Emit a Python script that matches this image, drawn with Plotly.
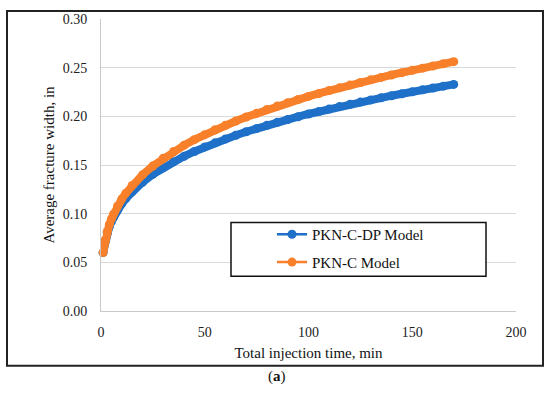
import plotly.graph_objects as go

# Total injection time, min
time_min = [1, 2, 3, 4, 5, 6, 8, 10, 12, 15, 20, 25, 30, 35, 40, 45, 50, 55, 60, 65,
            70, 75, 80, 85, 90, 95, 100, 105, 110, 115, 120, 125, 130, 135, 140, 145,
            150, 155, 160, 165, 170]

# Average fracture width, in
pkn_c_dp = [0.060, 0.0721, 0.0802, 0.0865, 0.0918, 0.0963, 0.1039, 0.1102, 0.1156, 0.1227,
            0.1323, 0.1404, 0.1473, 0.1534, 0.1589, 0.1639, 0.1686, 0.1728, 0.1768, 0.1806,
            0.1842, 0.1876, 0.1908, 0.1939, 0.1968, 0.1996, 0.2024, 0.2050, 0.2075, 0.2100,
            0.2123, 0.2146, 0.2169, 0.2190, 0.2212, 0.2232, 0.2252, 0.2272, 0.2291, 0.2310,
            0.2328]
pkn_c = [0.060, 0.0730, 0.0818, 0.0888, 0.0946, 0.0996, 0.1080, 0.1150, 0.1211, 0.1290,
         0.1399, 0.1490, 0.1569, 0.1639, 0.1702, 0.1760, 0.1812, 0.1862, 0.1908, 0.1952,
         0.1993, 0.2032, 0.2070, 0.2106, 0.2140, 0.2173, 0.2205, 0.2235, 0.2265, 0.2293,
         0.2321, 0.2348, 0.2375, 0.2400, 0.2425, 0.2449, 0.2473, 0.2495, 0.2518, 0.2540,
         0.2562]

series_names = ["PKN-C-DP Model", "PKN-C Model"]
x_ticks = [0, 50, 100, 150, 200]
y_ticks = [0.00, 0.05, 0.10, 0.15, 0.20, 0.25, 0.30]

BLUE = "#1E70C8"
ORANGE = "#F8802A"
FONT = "Liberation Serif"

fig = go.Figure()
for name, vals, col, lg in [(series_names[0], pkn_c_dp, BLUE, "legend"),
                            (series_names[1], pkn_c, ORANGE, "legend2")]:
    fig.add_trace(go.Scatter(x=time_min, y=vals, mode="lines+markers", name=name,
                             line=dict(color=col, width=8), marker=dict(color=col, size=9),
                             showlegend=False, cliponaxis=False))
    fig.add_trace(go.Scatter(x=[None], y=[None], mode="lines+markers", name=name,
                             line=dict(color=col, width=2.5), marker=dict(color=col, size=9),
                             legend=lg, showlegend=True))

W, H = 550, 393
L, R, T, B = 101, 34, 17, 82
pw, ph = W - L - R, H - T - B


def px(xp):
    return (xp - L) / pw


def py(yp):
    return (H - B - yp) / ph


legend_common = dict(xanchor="left", yanchor="middle", bgcolor="rgba(0,0,0,0)",
                     borderwidth=0, font=dict(family=FONT, size=15, color="#111"),
                     itemwidth=30)

fig.update_layout(
    width=W, height=H, margin=dict(l=L, r=R, t=T, b=B),
    paper_bgcolor="white", plot_bgcolor="white",
    font=dict(family=FONT, size=14, color="#222"),
    xaxis=dict(range=[0, 200], tickvals=x_ticks, showgrid=False, zeroline=False,
               showline=True, linecolor="#C8C8C8", linewidth=1, ticks="",
               ticklabelstandoff=8, tickfont=dict(family=FONT, size=14, color="#222"),
               title=dict(text="Total injection time, min", standoff=8,
                          font=dict(family=FONT, size=15, color="#111"))),
    yaxis=dict(range=[0, 0.30], tickvals=y_ticks, tickformat=".2f", showgrid=True,
               gridcolor="#D9D9D9", gridwidth=1, zeroline=False, showline=True,
               linecolor="#C8C8C8", linewidth=1, ticks="", ticklabelstandoff=10,
               tickfont=dict(family=FONT, size=14, color="#222"),
               title=dict(text="Average fracture width, in", standoff=4,
                          font=dict(family=FONT, size=15, color="#111"))),
    legend=dict(x=px(272), y=py(234), **legend_common),
    legend2=dict(x=px(272), y=py(262), **legend_common),
    shapes=[
        dict(type="rect", xref="paper", yref="paper", x0=px(7), x1=px(543),
             y0=py(366), y1=py(9), line=dict(color="#222", width=2), layer="below"),
        dict(type="rect", xref="paper", yref="paper", x0=px(231), x1=px(486),
             y0=py(276), y1=py(222), line=dict(color="#111", width=1.5),
             fillcolor="white", layer="above"),
    ],
    annotations=[
        dict(text="(<b>a</b>)", xref="paper", yref="paper", x=px(277), y=py(377),
             showarrow=False, font=dict(family=FONT, size=15, color="#111"),
             xanchor="center", yanchor="middle"),
    ],
)

fig.write_html("out.html", config={"displayModeBar": False},
               post_script="document.body.style.margin='0';document.body.style.overflow='hidden';")
